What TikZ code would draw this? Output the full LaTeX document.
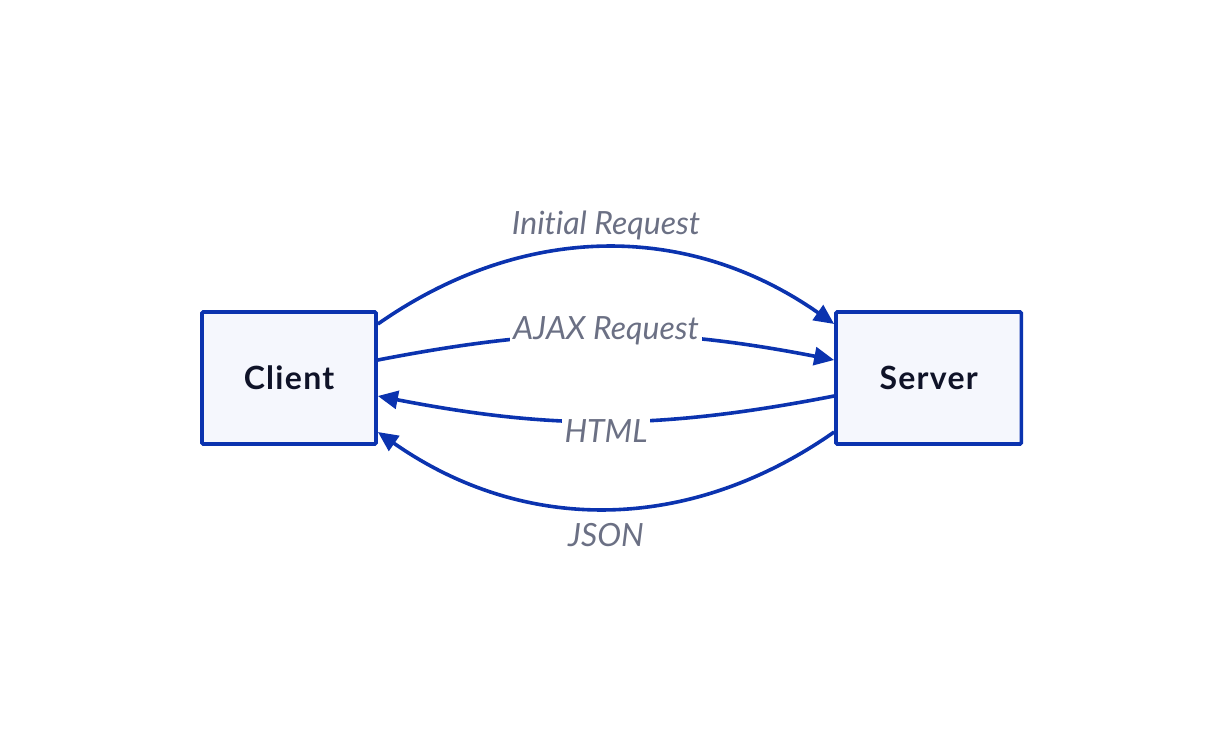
\documentclass[tikz,border=0pt]{standalone}
\usepackage{fontspec}
\setmainfont{Lato}[Ligatures=NoCommon]
\usetikzlibrary{arrows.meta,calc}
\definecolor{edgeblue}{HTML}{0B33AF}
\definecolor{boxfill}{HTML}{F5F7FD}
\definecolor{lblgray}{HTML}{6B7084}
\definecolor{nodeink}{HTML}{0F1328}
\begin{document}
\begin{tikzpicture}[x=0.75pt, y=-0.75pt,
  box/.style={rectangle, draw=edgeblue, fill=boxfill, line width=2.8pt, rounded corners=1pt,
    minimum height=99pt, text=nodeink, font=\fontsize{24}{28}\selectfont\bfseries\addfontfeature{LetterSpace=4}},
  flow/.style={draw=edgeblue, line width=2.7pt, -{Triangle[length=15pt,width=13.5pt]}},
  lbl/.style={text=lblgray, font=\fontsize{24}{28}\selectfont\itshape, inner sep=2pt}]
\useasboundingbox (0,0) rectangle (1224,756);
\node[box, minimum width=130.5pt] (client) at (289,378) {Client};
\node[box, minimum width=139pt] (server) at (928.7,378) {Server};
\draw[flow] ($(client.east)+(0,-54)$) to[bend left=35]
  node[lbl, midway, yshift=16.5pt] {Initial Request} ($(server.west)+(0,-54)$);
\draw[flow] ($(client.east)+(0,-18)$) to[bend left=11]
  node[lbl, midway, fill=white, yshift=3pt] {AJAX Request} ($(server.west)+(0,-18)$);
\draw[flow] ($(server.west)+(0,18)$) to[bend left=11]
  node[lbl, midway, fill=white, yshift=-7.5pt] {HTML} ($(client.east)+(0,18)$);
\draw[flow] ($(server.west)+(0,54)$) to[bend left=35]
  node[lbl, midway, yshift=-20pt] {JSON} ($(client.east)+(0,54)$);
\end{tikzpicture}
\end{document}
